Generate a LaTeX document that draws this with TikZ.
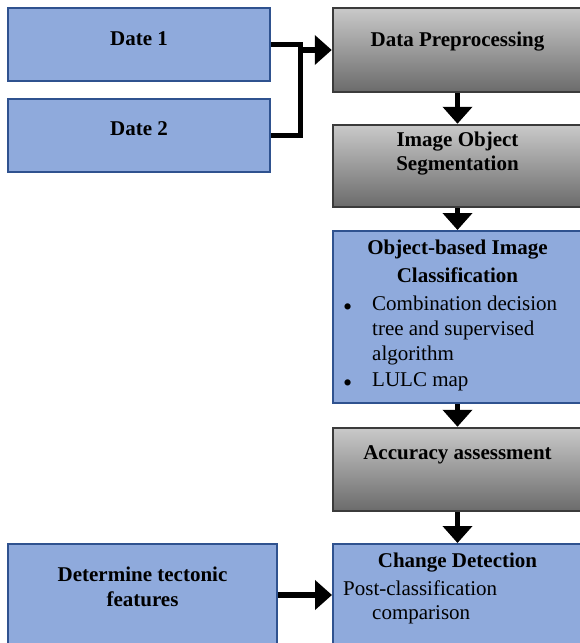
\documentclass[tikz,border=0pt]{standalone}
\usepackage{fontspec}
\setmainfont{Liberation Serif}
\usetikzlibrary{positioning,arrows.meta}
\definecolor{boxblue}{HTML}{8FAADC}
\definecolor{edgeblue}{HTML}{2F528F}
\definecolor{greytop}{HTML}{C9C9C9}
\definecolor{greybot}{HTML}{6B6B6B}
\definecolor{edgegrey}{HTML}{3B3B3B}
\newcommand{\bigbullet}{\makebox[30pt][l]{\hspace*{1pt}\raisebox{-5pt}{\fontsize{26}{25}\selectfont\textbullet}}}
\begin{document}
\begin{tikzpicture}[x=1pt,y=-1pt,
    bluebox/.style={draw=edgeblue,line width=2pt,fill=boxblue,inner sep=0pt},
    greybox/.style={draw=edgegrey,line width=2.5pt,top color=greytop,bottom color=greybot,inner sep=0pt},
    hd/.style={font=\bfseries\fontsize{21}{24}\selectfont,inner sep=0pt,align=center},
    body/.style={font=\fontsize{21}{25.3}\selectfont,inner sep=0pt,align=left},
    conn/.style={line width=5pt,line join=miter},
    arr/.style={line width=5.5pt,-{Triangle[length=17pt,width=29pt]}}
  ]
  \useasboundingbox (0,0) rectangle (580,643);
  \node [bluebox,minimum width=262pt,minimum height=73pt] (d1) at (139,44.5) {};
  \node [bluebox,minimum width=262pt,minimum height=73pt] (d2) at (139,135.5) {};
  \node [greybox,minimum width=249pt,minimum height=84pt] (prep) at (457.5,50) {};
  \node [greybox,minimum width=249pt,minimum height=82pt] (seg) at (457.5,166) {};
  \node [bluebox,minimum width=249pt,minimum height=172pt] (obia) at (457.5,317) {};
  \node [greybox,minimum width=249pt,minimum height=83pt] (acc) at (457.5,469.5) {};
  \node [bluebox,minimum width=249pt,minimum height=102pt] (chg) at (457.5,595) {};
  \node [bluebox,minimum width=269pt,minimum height=102pt] (tect) at (142.5,595) {};

  \node [hd,below=24pt of d1.north] (d1t) {Date 1};
  \node [hd,below=23pt of d2.north] (d2t) {Date 2};
  \node [hd,below=25pt of prep.north] (prept) {Data Preprocessing};
  \node [hd,below=8pt of seg.north,font=\bfseries\fontsize{21}{23.5}\selectfont] (segt) {Image Object\\Segmentation};
  \node [hd,below=10pt of obia.north,font=\bfseries\fontsize{21}{28}\selectfont] (obiat) {Object-based Image\\Classification};
  \node [body,below right=65.5pt and 10pt of obia.north west] (obiab)
    {\bigbullet Combination decision\\
     \hspace*{30pt}tree and supervised\\
     \hspace*{30pt}algorithm\\
     \bigbullet LULC map};
  \node [hd,below=19pt of acc.north] (acct) {Accuracy assessment};
  \node [hd,below=10pt of chg.north] (chgt) {Change Detection};
  \node [body,below right=37.4pt and 11pt of chg.north west,font=\fontsize{21}{24}\selectfont] (chgb)
    {Post-classification\\\hspace*{29pt}comparison};
  \node [hd,below=24pt of tect.north,font=\bfseries\fontsize{21}{25}\selectfont] (tectt) {Determine tectonic\\features};

  \coordinate (bend) at (300,50);
  \draw [conn] (d1.east) -- (d1.east -| bend) -- (d2.east -| bend) -- (d2.east);
  \draw [arr] (bend) -- (prep.west);
  \draw [arr] (prep) -- (seg);
  \draw [arr] (seg) -- (obia);
  \draw [arr] (obia) -- (acc);
  \draw [arr] (acc) -- (chg);
  \draw [arr] (tect) -- (chg);
\end{tikzpicture}
\end{document}
